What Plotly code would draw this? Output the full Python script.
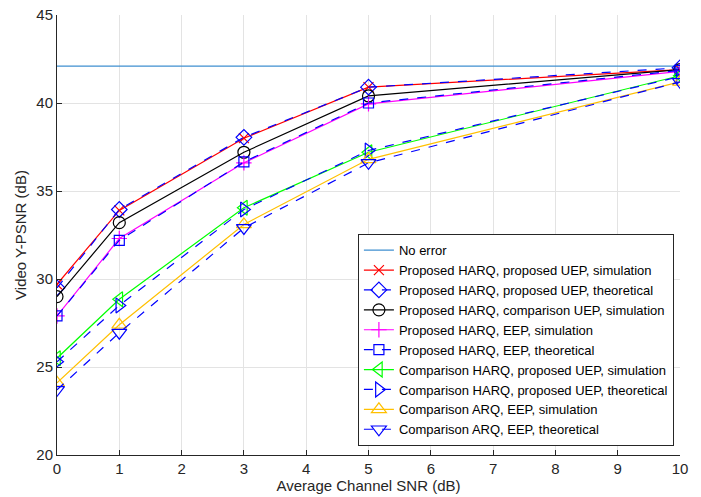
import plotly.graph_objects as go

snr = [0, 1, 3, 5, 10]
no_error = [42.1, 42.1]
no_error_x = [0, 10]

ph_pu_sim = [29.7, 33.9, 38.0, 40.9, 41.9]
ph_pu_th = [29.5, 33.95, 38.05, 40.9, 42.0]
ph_cu_sim = [29.0, 33.2, 37.2, 40.4, 41.9]
ph_eep_sim = [27.9, 32.3, 36.6, 39.95, 41.8]
ph_eep_th = [27.9, 32.2, 36.65, 40.0, 41.85]
ch_pu_sim = [25.5, 28.85, 34.05, 37.2, 41.55]
ch_pu_th = [25.3, 28.5, 33.95, 37.3, 41.5]
ca_eep_sim = [24.1, 27.4, 33.1, 36.8, 41.2]
ca_eep_th = [23.7, 26.95, 32.9, 36.6, 41.2]

names = [
    "Proposed HARQ, proposed UEP, simulation",
    "Proposed HARQ, proposed UEP, theoretical",
    "Proposed HARQ, comparison UEP, simulation",
    "Proposed HARQ, EEP, simulation",
    "Proposed HARQ, EEP, theoretical",
    "Comparison HARQ, proposed UEP, simulation",
    "Comparison HARQ, proposed UEP, theoretical",
    "Comparison ARQ, EEP, simulation",
    "Comparison ARQ, EEP, theoretical",
]
series = [ph_pu_sim, ph_pu_th, ph_cu_sim, ph_eep_sim, ph_eep_th,
          ch_pu_sim, ch_pu_th, ca_eep_sim, ca_eep_th]
colors = ["#ff0000", "#0000ff", "#000000", "#ff00ff", "#0000ff",
          "#00ff00", "#0000ff", "#ffc000", "#0000ff"]
symbols = ["x-thin-open", "diamond-open", "circle-open", "cross-thin-open",
           "square-open", "triangle-left-open", "triangle-right-open",
           "triangle-up-open", "triangle-down-open"]
dashes = ["solid", "dash", "solid", "solid", "dash", "solid", "dash", "solid", "dash"]
sizes = [10, 12, 12, 11, 10, 13, 13, 13, 13]

fig = go.Figure()
fig.add_trace(go.Scatter(x=no_error_x, y=no_error, mode="lines", name="No error",
                         line=dict(color="#3f8fd0", width=1.2)))
for n, s, c, sym, d, sz in zip(names, series, colors, symbols, dashes, sizes):
    fig.add_trace(go.Scatter(
        x=snr, y=s, mode="lines+markers", name=n,
        line=dict(color=c, width=1.2, dash=d),
        marker=dict(symbol=sym, size=sz, color=c, line=dict(color=c, width=1.2)),
    ))

axis_common = dict(
    showgrid=True, gridcolor="#e3e3e3", gridwidth=1,
    showline=True, linecolor="#262626", linewidth=1,
    ticks="inside", ticklen=5, tickcolor="#262626",
    zeroline=False, mirror=False, automargin=False,
    tickfont=dict(family="Liberation Sans, Arial", size=15, color="#262626"),
    title_font=dict(family="Liberation Sans, Arial", size=15, color="#262626"),
)
fig.update_xaxes(range=[0, 10], dtick=1, title_text="Average Channel SNR (dB)",
                 title_standoff=2, **axis_common)
fig.update_yaxes(range=[20, 45], dtick=5, title_text="Video Y-PSNR (dB)",
                 title_standoff=6, **axis_common)

fig.update_layout(
    width=701, height=497,
    margin=dict(l=57, r=21, t=15, b=42),
    plot_bgcolor="white", paper_bgcolor="white",
    font=dict(family="Liberation Sans, Arial", color="#000000"),
    legend=dict(x=0.483, y=0.02, xanchor="left", yanchor="bottom",
                bgcolor="white", bordercolor="#262626", borderwidth=1,
                font=dict(size=13, color="#000000"), tracegroupgap=0,
                itemwidth=30),
    showlegend=True,
)

fig.write_html("out.html")
